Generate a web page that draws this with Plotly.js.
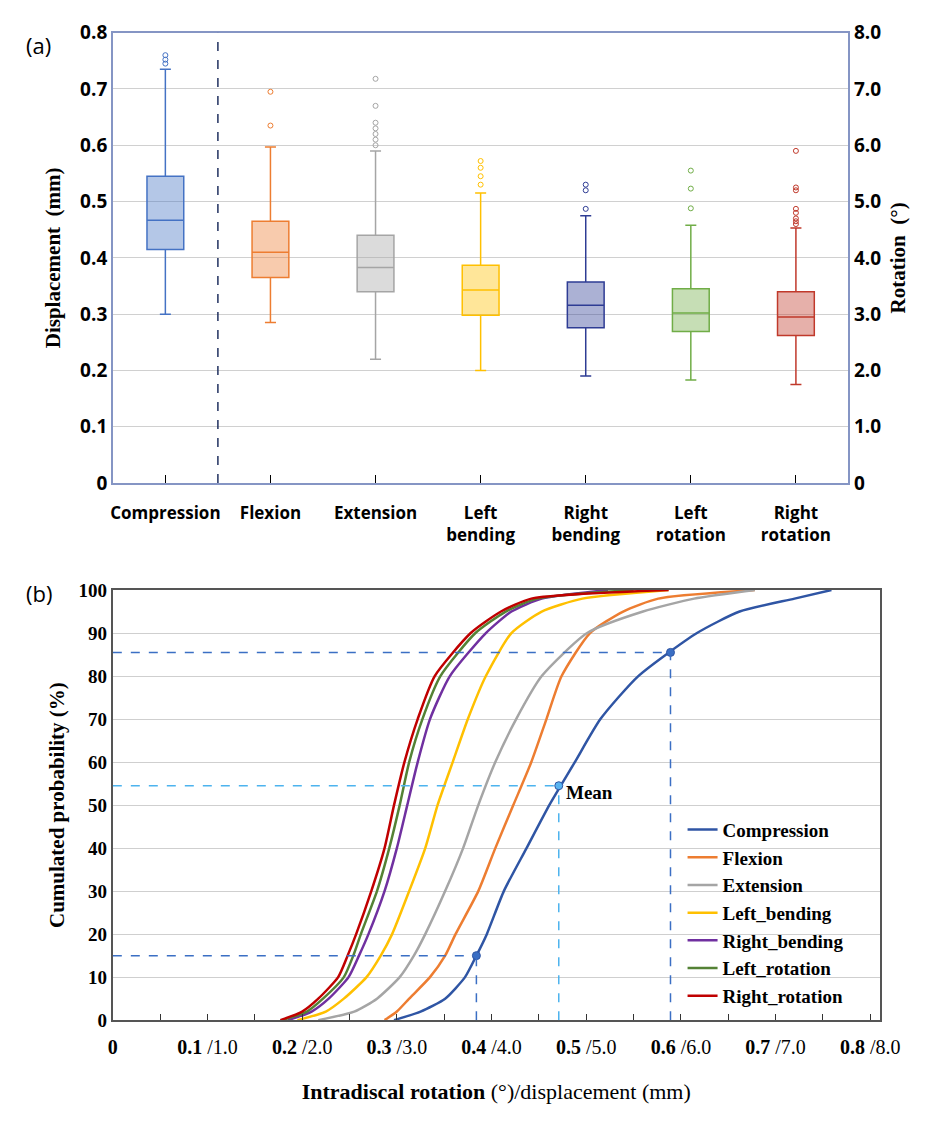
<!DOCTYPE html>
<html><head><meta charset="utf-8">
<script src="https://cdn.plot.ly/plotly-3.0.1.min.js"></script>
<style>body{margin:0;background:#fff}</style></head>
<body><div id="myDiv" style="width:948px;height:1126px"></div>
<script>
// panel (a) box statistics (mm)
let cats = ['Compression', 'Flexion', 'Extension', 'Left bending', 'Right bending', 'Left rotation', 'Right rotation'];
let catLabels = ['Compression', 'Flexion', 'Extension', 'Left<br>bending', 'Right<br>bending', 'Left<br>rotation', 'Right<br>rotation'];
let lowFence = [0.300, 0.285, 0.220, 0.200, 0.190, 0.183, 0.175];
let q1 = [0.415, 0.365, 0.340, 0.298, 0.276, 0.269, 0.262];
let median = [0.467, 0.410, 0.383, 0.343, 0.316, 0.302, 0.295];
let q3 = [0.545, 0.465, 0.440, 0.387, 0.357, 0.345, 0.340];
let upFence = [0.735, 0.597, 0.590, 0.515, 0.475, 0.458, 0.453];
let outliers = [
  [0.745, 0.752, 0.760],
  [0.635, 0.695],
  [0.600, 0.610, 0.620, 0.630, 0.640, 0.670, 0.718],
  [0.530, 0.545, 0.560, 0.572],
  [0.487, 0.520, 0.530],
  [0.488, 0.523, 0.555],
  [0.460, 0.465, 0.470, 0.480, 0.487, 0.520, 0.525, 0.590]
];
let boxColors = ['#4472c4', '#ed7d31', '#a5a5a5', '#ffc000', '#2e3c94', '#70ad47', '#c0392b'];

// panel (b) cumulative curves: value at each probability level
let prob = [0, 2, 5, 10, 15, 20, 30, 40, 50, 60, 70, 80, 90, 95, 98, 100];
let compression = [0.297, 0.325, 0.351, 0.372, 0.384, 0.395, 0.413, 0.437, 0.461, 0.488, 0.515, 0.555, 0.617, 0.662, 0.720, 0.759];
let flexion = [0.287, 0.300, 0.313, 0.335, 0.351, 0.362, 0.386, 0.404, 0.423, 0.442, 0.458, 0.474, 0.504, 0.539, 0.576, 0.678];
let extension = [0.217, 0.255, 0.279, 0.303, 0.318, 0.330, 0.351, 0.370, 0.386, 0.404, 0.426, 0.453, 0.501, 0.560, 0.614, 0.678];
let leftBending = [0.195, 0.225, 0.244, 0.268, 0.283, 0.295, 0.313, 0.330, 0.343, 0.359, 0.375, 0.394, 0.421, 0.453, 0.496, 0.587];
let rightBending = [0.185, 0.210, 0.228, 0.249, 0.260, 0.270, 0.287, 0.300, 0.311, 0.322, 0.335, 0.356, 0.394, 0.421, 0.453, 0.523];
let leftRotation = [0.179, 0.205, 0.222, 0.244, 0.254, 0.262, 0.279, 0.292, 0.303, 0.313, 0.327, 0.346, 0.383, 0.415, 0.448, 0.550];
let rightRotation = [0.177, 0.200, 0.217, 0.238, 0.248, 0.257, 0.273, 0.287, 0.297, 0.308, 0.322, 0.340, 0.378, 0.410, 0.442, 0.587];
let curveNames = ['Compression', 'Flexion', 'Extension', 'Left_bending', 'Right_bending', 'Left_rotation', 'Right_rotation'];
let curveColors = ['#2f55a4', '#ed7d31', '#a5a5a5', '#ffc000', '#7030a0', '#548235', '#c00000'];
let marks = [[0.384, 15], [0.471, 54.5], [0.589, 85.5]];

let data = [];
cats.forEach((c, i) => {
  data.push({
    type: 'box', x: [c], q1: [q1[i]], median: [median[i]], q3: [q3[i]],
    lowerfence: [lowFence[i]], upperfence: [upFence[i]],
    xaxis: 'x', yaxis: 'y', boxpoints: false, width: 0.35, whiskerwidth: 0.3,
    line: {color: boxColors[i], width: 1.5}, fillcolor: boxColors[i] + '66', showlegend: false
  });
  data.push({
    type: 'scatter', mode: 'markers', x: outliers[i].map(() => c), y: outliers[i],
    xaxis: 'x', yaxis: 'y', showlegend: false,
    marker: {symbol: 'circle-open', size: 5, color: boxColors[i], line: {width: 1}}
  });
});
// invisible trace to activate right axis
data.push({type: 'scatter', x: [cats[0]], y: [0], xaxis: 'x', yaxis: 'y2', mode: 'markers', marker: {opacity: 0}, showlegend: false, hoverinfo: 'skip'});

let curves = [compression, flexion, extension, leftBending, rightBending, leftRotation, rightRotation];
curves.forEach((v, i) => {
  data.push({
    type: 'scatter', mode: 'lines', x: v, y: prob, name: curveNames[i],
    xaxis: 'x3', yaxis: 'y3', line: {color: curveColors[i], width: 2.5, shape: 'spline', smoothing: 0.6}
  });
});
data.push({
  type: 'scatter', mode: 'markers', x: marks.map(m => m[0]), y: marks.map(m => m[1]),
  xaxis: 'x3', yaxis: 'y3', showlegend: false,
  marker: {size: 8, color: ['#3b6fc4', '#5ab4f0', '#3b6fc4'], line: {color: '#2f55a4', width: 1}}
});

let shapes = [{type: 'line', xref: 'x', yref: 'y', x0: 0.5, x1: 0.5, y0: 0, y1: 0.8, line: {color: '#1f2f5f', width: 1.5, dash: 'dash'}}];
marks.forEach((m, i) => {
  let col = i === 1 ? '#4db3ee' : '#3b6fc4';
  shapes.push({type: 'line', xref: 'x3', yref: 'y3', x0: 0, x1: m[0], y0: m[1], y1: m[1], line: {color: col, width: 1.5, dash: 'dash'}});
  shapes.push({type: 'line', xref: 'x3', yref: 'y3', x0: m[0], x1: m[0], y0: 0, y1: m[1], line: {color: col, width: 1.5, dash: 'dash'}});
});

let serif = 'Liberation Serif, Times New Roman, serif';
let sans = 'Open Sans, Arial, sans-serif';
let tv = [0, 0.1, 0.2, 0.3, 0.4, 0.5, 0.6, 0.7, 0.8];
let tt = tv.map((v, i) => i === 0 ? '<b>0</b>' : '<b>' + v.toFixed(1) + '</b> /' + (v * 10).toFixed(1));

let layout = {
  width: 948, height: 1126, margin: {l: 0, r: 0, t: 0, b: 0},
  paper_bgcolor: '#fff', plot_bgcolor: '#fff',
  xaxis: {domain: [0.119, 0.895], anchor: 'y', type: 'category', range: [-0.5, 6.5],
    tickvals: cats, ticktext: catLabels, tickfont: {family: sans, size: 17, color: '#000', weight: 'bold'},
    ticklabelstandoff: 14,
    ticks: 'inside', ticklen: 8, tickcolor: '#000', showline: true, linecolor: '#8595c4', linewidth: 1.5, mirror: true, showgrid: false},
  yaxis: {domain: [0.571, 0.971], anchor: 'x', range: [0, 0.8], dtick: 0.1, tickformat: '.1f',
    tickfont: {family: sans, size: 19, color: '#000', weight: 'bold'}, gridcolor: '#d0d0d0', zeroline: false,
    showline: true, linecolor: '#8595c4', linewidth: 1.5,
    title: {text: 'Displacement  (mm)', font: {family: serif, size: 21, color: '#000', weight: 'bold'}, standoff: 14},
    tickvals: tv, ticktext: tv.map(v => v === 0 ? '0' : v.toFixed(1))},
  yaxis2: {overlaying: 'y', side: 'right', anchor: 'x', range: [0, 8], tickvals: [0, 1, 2, 3, 4, 5, 6, 7, 8],
    ticktext: ['0', '1.0', '2.0', '3.0', '4.0', '5.0', '6.0', '7.0', '8.0'], showgrid: false, zeroline: false,
    tickfont: {family: sans, size: 19, color: '#000', weight: 'bold'}, showline: true, linecolor: '#8595c4', linewidth: 1.5,
    title: {text: 'Rotation  (°)', font: {family: serif, size: 21, color: '#000', weight: 'bold'}, standoff: 10}},
  xaxis3: {domain: [0.119, 0.928], anchor: 'y3', range: [0, 0.81], tickvals: tv, ticktext: tt,
    tickfont: {family: serif, size: 20, color: '#000'}, ticklabelstandoff: 8, ticks: 'inside', ticklen: 6, tickcolor: '#333',
    minor: {dtick: 0.05, ticks: 'inside', ticklen: 6, tickcolor: '#333'},
    showgrid: false, zeroline: false, showline: true, linecolor: '#555', linewidth: 2, mirror: true,
    title: {text: '<b>Intradiscal rotation</b> (°)/displacement (mm)', font: {family: serif, size: 22, color: '#000'}, standoff: 26}},
  yaxis3: {domain: [0.094, 0.476], anchor: 'x3', range: [0, 100], dtick: 10, gridcolor: '#cfcfcf',
    tickfont: {family: serif, size: 19, color: '#000', weight: 'bold'}, zeroline: false,
    showline: true, linecolor: '#555', linewidth: 2, mirror: true,
    title: {text: 'Cumulated probability (%)', font: {family: serif, size: 21, color: '#000', weight: 'bold'}, standoff: 8}},
  legend: {x: 0.72, y: 0.28, xanchor: 'left', yanchor: 'top', bgcolor: 'rgba(255,255,255,0)',
    font: {family: serif, size: 19, color: '#000', weight: 'bold'}, tracegroupgap: 0, itemwidth: 30},
  shapes: shapes,
  annotations: [
    {xref: 'paper', yref: 'paper', x: 0.025, y: 0.975, text: '(a)', showarrow: false, font: {family: sans, size: 22, color: '#000'}},
    {xref: 'paper', yref: 'paper', x: 0.025, y: 0.473, text: '(b)', showarrow: false, font: {family: sans, size: 22, color: '#000'}},
    {xref: 'x3', yref: 'y3', x: 0.477, y: 53, xanchor: 'left', text: '<b>Mean</b>', showarrow: false, font: {family: serif, size: 19, color: '#000'}}
  ]
};
Plotly.newPlot('myDiv', data, layout, {displayModeBar: false});
</script></body></html>
